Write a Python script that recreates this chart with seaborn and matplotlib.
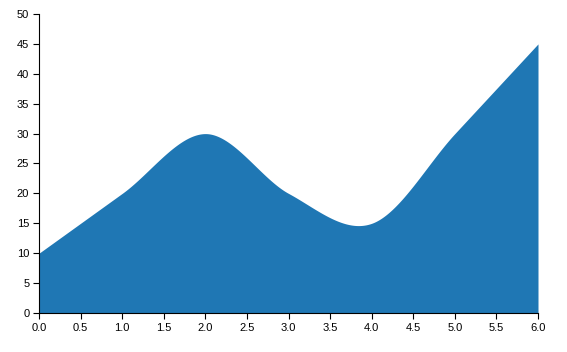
import numpy as np
import pandas as pd
import matplotlib
matplotlib.use("Agg")
import matplotlib.pyplot as plt
import seaborn as sns

x_vals = [0, 1, 2, 3, 4, 5, 6]
y_vals = [10, 20, 30, 20, 15, 30, 45]
x_ticks = [0, 0.5, 1, 1.5, 2, 2.5, 3, 3.5, 4, 4.5, 5, 5.5, 6]
y_ticks = [0, 5, 10, 15, 20, 25, 30, 35, 40, 45, 50]

sns.set_style("ticks")
plt.rcParams['font.family'] = ['Liberation Sans', 'DejaVu Sans']

df = pd.DataFrame({"x": x_vals, "y": y_vals})

def cardinal(xs, ys, n=80):
    xs = np.asarray(xs, float); ys = np.asarray(ys, float)
    m = np.zeros_like(ys)
    m[1:-1] = (ys[2:] - ys[:-2]) / (xs[2:] - xs[:-2])
    m[0] = (ys[1] - ys[0]) / (xs[1] - xs[0])
    m[-1] = (ys[-1] - ys[-2]) / (xs[-1] - xs[-2])
    px, py = [], []
    for i in range(len(xs) - 1):
        h = xs[i + 1] - xs[i]
        t = np.linspace(0, 1, n, endpoint=(i == len(xs) - 2))
        h00 = 2 * t**3 - 3 * t**2 + 1
        h10 = t**3 - 2 * t**2 + t
        h01 = -2 * t**3 + 3 * t**2
        h11 = t**3 - t**2
        px.append(xs[i] + t * h)
        py.append(h00 * ys[i] + h10 * h * m[i] + h01 * ys[i + 1] + h11 * h * m[i + 1])
    return np.concatenate(px), np.concatenate(py)

fig = plt.figure(figsize=(5.67, 3.52), dpi=100)
ax = fig.add_axes([39 / 567, 39 / 352, (538 - 39) / 567, (313 - 14) / 352])

sx, sy = cardinal(df["x"], df["y"])
sns.lineplot(x=sx, y=sy, ax=ax, color="#1f77b4", linewidth=0, sort=False)
ax.fill_between(sx, 0, sy, color="#1f77b4", linewidth=0, antialiased=True)

ax.set_xlim(0, 6)
ax.set_ylim(0, 50)
ax.set_xticks(x_ticks)
ax.set_xticklabels([f"{v:.1f}" for v in x_ticks])
ax.set_yticks(y_ticks)
ax.set_yticklabels([str(v) for v in y_ticks])
ax.tick_params(axis="both", length=4.5, width=0.8, color="black", labelsize=8, pad=2.5, labelcolor="black")
ax.set_xlabel("")
ax.set_ylabel("")
for s in ["left", "bottom"]:
    ax.spines[s].set_color("black")
    ax.spines[s].set_linewidth(0.8)
sns.despine(ax=ax)

fig.savefig("out.png", dpi=100)
